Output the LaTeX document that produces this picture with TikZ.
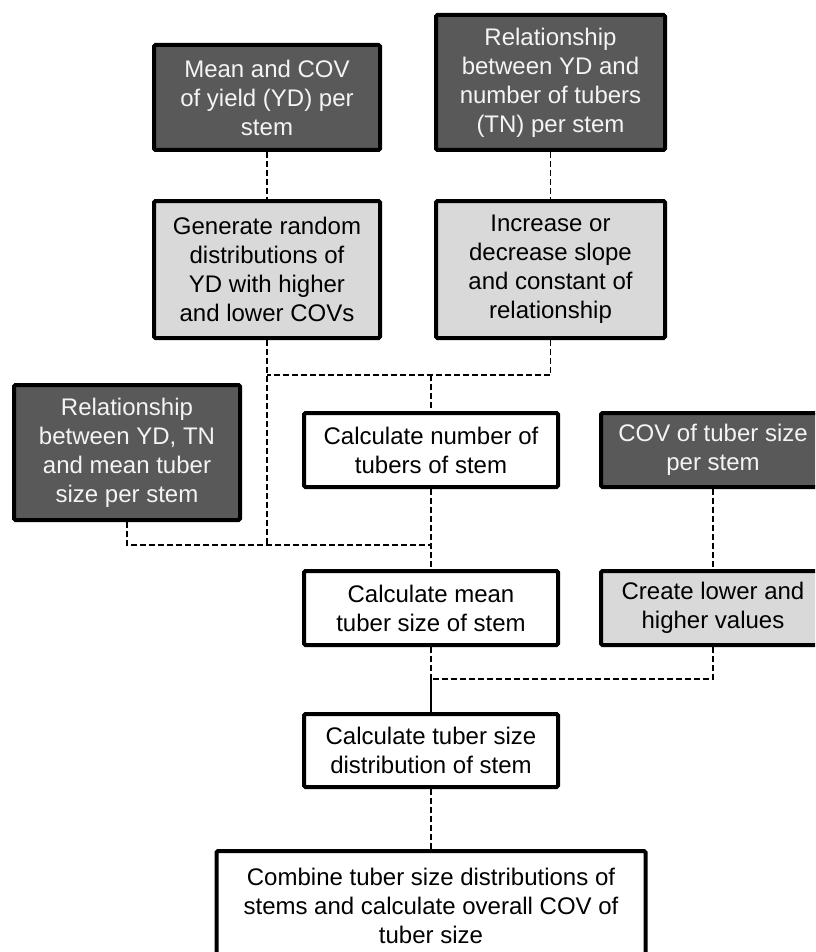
\documentclass[tikz,border=0pt]{standalone}
\usepackage{fontspec}
\setmainfont{Liberation Sans}
\definecolor{darkbox}{HTML}{595959}
\definecolor{lightbox}{HTML}{D9D9D9}
\definecolor{darktext}{HTML}{F4F4F4}
\begin{document}
\begin{tikzpicture}[x=1pt,y=-1pt,
  box/.style={draw=black, line width=4pt, rounded corners=1.5pt, rectangle,
    align=center, inner sep=0pt, font=\fontsize{24}{29}\selectfont},
  inputbox/.style={box, fill=darkbox, text=darktext},
  varybox/.style={box, fill=lightbox, text=black},
  calcbox/.style={box, fill=white, text=black},
  conn/.style={line width=1.6pt, dash pattern=on 6pt off 3pt},
  solidconn/.style={line width=1.6pt}]
\clip (0,0) rectangle (815,952);
\fill[white] (0,0) rectangle (815,952);

% inputs and their variations
\node[inputbox, minimum width=226pt, minimum height=105pt] (b1) at (267,97.5)
  {Mean and COV\\of yield (YD) per\\stem};
\node[inputbox, minimum width=229pt, minimum height=135pt] (b2) at (550.5,82.5)
  {Relationship\\between YD and\\number of tubers\\(TN) per stem};
\node[varybox, minimum width=226pt, minimum height=137pt] (b3) at (267,269.5)
  {Generate random\\distributions of\\YD with higher\\and lower COVs};
\node[varybox, minimum width=229pt, minimum height=137pt] (b4) at (550.5,269.5)
  {Increase or\\decrease slope\\and constant of\\relationship};
\node[inputbox, minimum width=226pt, minimum height=135pt] (b5) at (127,452.5)
  {Relationship\\between YD, TN\\and mean tuber\\size per stem};
\node[inputbox, minimum width=224pt, minimum height=74pt] (b7) at (713,450)
  {COV of tuber size\\per stem};
\node[varybox, minimum width=224pt, minimum height=74pt] (b9) at (713,608)
  {Create lower and\\higher values};

% calculation chain
\node[calcbox, minimum width=254pt, minimum height=74pt] (b6) at (431,450)
  {Calculate number of\\tubers of stem};
\node[calcbox, minimum width=254pt, minimum height=74pt] (b8) at (431,608)
  {Calculate mean\\tuber size of stem};
\node[calcbox, minimum width=254pt, minimum height=73pt] (b10) at (431,750.5)
  {Calculate tuber size\\distribution of stem};
\node[calcbox, minimum width=429pt, minimum height=110pt] (b11) at (431,906)
  {Combine tuber size distributions of\\stems and calculate overall COV of\\tuber size};

% junction points
\coordinate (m1) at (431,375);
\coordinate (m2) at (431,545);
\coordinate (m3) at (431,679);

% connectors
\draw[conn] (b1.south) -- (b3.north);
\draw[conn] (b2.south) -- (b4.north);
\draw[conn] (b3.south) -- (b3.south |- m2);
\draw[conn] (b4.south) |- (b3.south |- m1);
\draw[conn] (m1) -- (b6.north);
\draw[conn] (b5.south) |- (m2);
\draw[conn] (b6.south) -- (b8.north);
\draw[conn] (b7.south) -- (b9.north);
\draw[conn] (b8.south) -- (m3);
\draw[conn] (b9.south) |- (m3);
\draw[solidconn] (m3) -- (b10.north);
\draw[conn] (b10.south) -- (b11.north);
\end{tikzpicture}
\end{document}
